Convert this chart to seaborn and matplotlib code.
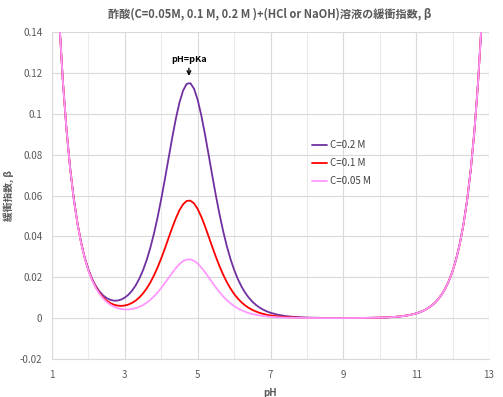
import matplotlib
matplotlib.use("Agg")
import matplotlib.pyplot as plt
import seaborn as sns
import pandas as pd

# ---- data (read/estimated from the reference) ----
ph = [1.2, 1.3, 1.4, 1.5, 1.6, 1.7, 1.8, 1.9,
      2.0, 2.1, 2.2, 2.3, 2.4, 2.5, 2.6, 2.7, 2.8, 2.9,
      3.0, 3.1, 3.2, 3.3, 3.4, 3.5, 3.6, 3.7, 3.8, 3.9,
      4.0, 4.1, 4.2, 4.3, 4.4, 4.5, 4.6, 4.7, 4.8, 4.9,
      5.0, 5.1, 5.2, 5.3, 5.4, 5.5, 5.6, 5.7, 5.8, 5.9,
      6.0, 6.1, 6.2, 6.3, 6.4, 6.5, 6.6, 6.7, 6.8, 6.9,
      7.0, 7.2, 7.4, 7.6, 7.8, 8.0, 8.5, 9.0, 9.5,
      10.0, 10.2, 10.4, 10.6, 10.8, 11.0, 11.1, 11.2, 11.3, 11.4,
      11.5, 11.6, 11.7, 11.8, 11.9, 12.0, 12.1, 12.2, 12.3, 12.4,
      12.5, 12.6, 12.7, 12.8]

beta_02 = [0.1454, 0.1156, 0.0919, 0.0731, 0.0582, 0.0464, 0.0370, 0.0296,
           0.02383, 0.01930, 0.01579, 0.01313, 0.01116, 0.00979, 0.00893, 0.00854, 0.00859, 0.00909,
           0.01004, 0.01148, 0.01347, 0.01607, 0.01938, 0.02347, 0.02845, 0.03441, 0.04138, 0.04938,
           0.05833, 0.06802, 0.07813, 0.08817, 0.09752, 0.10549, 0.11139, 0.11465, 0.11495, 0.11224,
           0.10685, 0.09918, 0.09001, 0.08002, 0.06985, 0.05999, 0.05082, 0.04255, 0.03528, 0.02901,
           0.02370, 0.01925, 0.01557, 0.01255, 0.01008, 0.00808, 0.00647, 0.00517, 0.00413, 0.00329,
           0.00262, 0.00166, 0.00105, 0.00066, 0.00042, 0.00027, 0.00008, 0.00005, 0.00008,
           0.00023, 0.000365, 0.00058, 0.00092, 0.00145, 0.00230, 0.00290, 0.00365, 0.00460, 0.00579,
           0.00728, 0.00917, 0.01154, 0.01453, 0.01829, 0.02303, 0.02900, 0.03650, 0.04595, 0.05785,
           0.07283, 0.09169, 0.11543, 0.14532]

beta_01 = [0.1454, 0.1155, 0.0918, 0.0730, 0.0580, 0.0462, 0.0368, 0.0293,
           0.02343, 0.01879, 0.01516, 0.01234, 0.01017, 0.00853, 0.00736, 0.00657, 0.00612, 0.00599,
           0.00617, 0.00665, 0.00746, 0.00861, 0.01015, 0.01210, 0.01452, 0.01743, 0.02087, 0.02484,
           0.02928, 0.03410, 0.03914, 0.04414, 0.04881, 0.05278, 0.05572, 0.05735, 0.05749, 0.05613,
           0.05344, 0.04960, 0.04501, 0.04001, 0.03492, 0.03000, 0.02541, 0.02128, 0.01764, 0.01451,
           0.01185, 0.00963, 0.00779, 0.00627, 0.00504, 0.00404, 0.00323, 0.00258, 0.00206, 0.00164,
           0.00131, 0.00083, 0.00053, 0.00033, 0.00021, 0.00013, 0.00004, 0.00003, 0.00008,
           0.00023, 0.000365, 0.00058, 0.00092, 0.00145, 0.00230, 0.00290, 0.00365, 0.00460, 0.00579,
           0.00728, 0.00917, 0.01154, 0.01453, 0.01829, 0.02303, 0.02900, 0.03650, 0.04595, 0.05785,
           0.07283, 0.09169, 0.11543, 0.14532]

beta_005 = [0.1454, 0.1155, 0.0917, 0.0729, 0.0579, 0.0461, 0.0366, 0.0292,
            0.02323, 0.01854, 0.01485, 0.01194, 0.00967, 0.00791, 0.00657, 0.00558, 0.00489, 0.00445,
            0.00424, 0.00424, 0.00446, 0.00488, 0.00553, 0.00641, 0.00755, 0.00895, 0.01062, 0.01256,
            0.01475, 0.01714, 0.01964, 0.02213, 0.02445, 0.02643, 0.02789, 0.02870, 0.02877, 0.02808,
            0.02673, 0.02481, 0.02251, 0.02001, 0.01746, 0.01500, 0.01271, 0.01064, 0.00882, 0.00725,
            0.00592, 0.00481, 0.00389, 0.00314, 0.00252, 0.00202, 0.00162, 0.00129, 0.00103, 0.00082,
            0.00066, 0.00042, 0.00026, 0.00017, 0.00010, 0.00007, 0.00002, 0.00003, 0.00008,
            0.00023, 0.000365, 0.00058, 0.00092, 0.00145, 0.00230, 0.00290, 0.00365, 0.00460, 0.00579,
            0.00728, 0.00917, 0.01154, 0.01453, 0.01829, 0.02303, 0.02900, 0.03650, 0.04595, 0.05785,
            0.07283, 0.09169, 0.11543, 0.14532]

series_labels = ["C=0.2 M", "C=0.1 M", "C=0.05 M"]
series_colors = ["#7030A0", "#FF0000", "#FF99FF"]
x_ticks = [1, 3, 5, 7, 9, 11, 13]
y_ticks = [-0.02, 0, 0.02, 0.04, 0.06, 0.08, 0.1, 0.12, 0.14]
y_tick_labels = ["-0.02", "0", "0.02", "0.04", "0.06", "0.08", "0.1", "0.12", "0.14"]

title = "酢酸(C=0.05M, 0.1 M, 0.2 M )+(HCl or NaOH)溶液の緩衝指数, β"

# ---- build long table ----
frames = []
for lab, vals in zip(series_labels, [beta_02, beta_01, beta_005]):
    frames.append(pd.DataFrame({"pH": ph, "beta": vals, "series": lab}))
df = pd.concat(frames, ignore_index=True)

sns.set_theme(style="white")
plt.rcParams["font.family"] = ["Noto Sans CJK JP", "DejaVu Sans"]

fig = plt.figure(figsize=(5.03, 3.97), dpi=100)
ax = fig.add_axes([52 / 503, 1 - 359 / 397, 437 / 503, 327 / 397])

sns.lineplot(data=df, x="pH", y="beta", hue="series", hue_order=series_labels,
             palette=dict(zip(series_labels, series_colors)), linewidth=1.3,
             estimator=None, sort=False, ax=ax, zorder=3)

ax.set_xlim(1, 13)
ax.set_ylim(-0.02, 0.14)
ax.set_xticks(x_ticks)
ax.set_xticks([2, 4, 6, 8, 10, 12], minor=True)
ax.set_yticks(y_ticks)
ax.set_yticklabels(y_tick_labels)
ax.grid(True, which="major", color="#D9D9D9", linewidth=0.8)
ax.grid(True, which="minor", axis="x", color="#EBEBEB", linewidth=0.8)
ax.set_axisbelow(True)
ax.tick_params(axis="both", which="both", length=0, labelsize=7, colors="#595959")
ax.tick_params(axis="y", pad=7)
ax.tick_params(axis="x", pad=8)
for s in ["top", "right"]:
    ax.spines[s].set_visible(False)
for s in ["left", "bottom"]:
    ax.spines[s].set_color("#D9D9D9")
    ax.spines[s].set_linewidth(0.8)

ax.set_xlabel("pH", fontsize=7, fontweight="bold", color="#595959")
ax.xaxis.set_label_coords(0.5, -(388 - 359) / 327)
ax.set_ylabel("緩衝指数, β", fontsize=7, fontweight="bold", color="#595959")
ax.yaxis.set_label_coords(-(52 - 14) / 437, 0.5)
fig.text(270 / 503, 1 - 14 / 397, title, ha="center", va="center",
         fontsize=8, fontweight="bold", color="#595959")

ax.annotate("pH=pKa", xy=(4.76, 0.1185), xytext=(4.76, 0.1245),
            ha="center", va="bottom", fontsize=6.5, fontweight="bold", color="black",
            arrowprops=dict(arrowstyle="->", color="black", lw=1.0, shrinkA=1, shrinkB=0))

handles, labels = ax.get_legend_handles_labels()
ax.legend(handles, labels, loc="upper left", bbox_to_anchor=(0.575, 0.695),
          frameon=False, fontsize=7, handlelength=1.5, handletextpad=0.3,
          labelspacing=0.8, labelcolor="#404040")

fig.savefig("out.png", dpi=100)
